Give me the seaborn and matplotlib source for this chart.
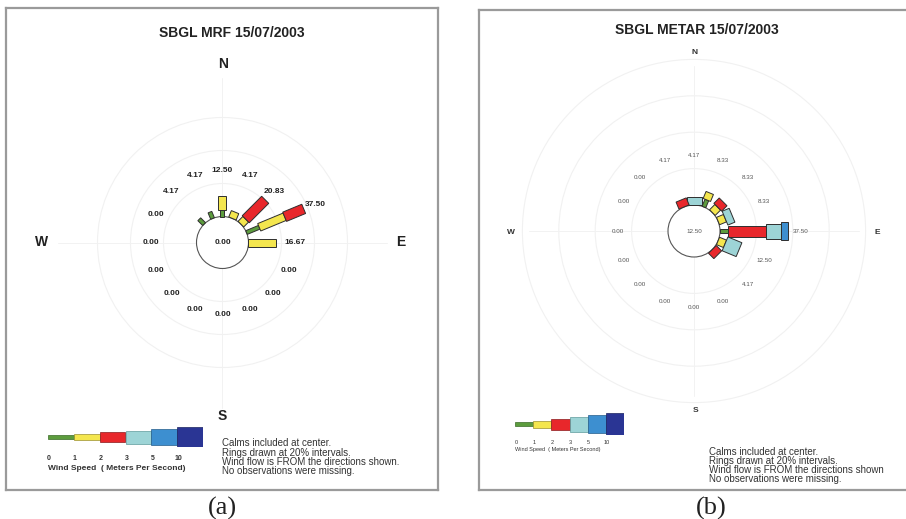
import numpy as np
import matplotlib
matplotlib.use("Agg")
import matplotlib.pyplot as plt
from matplotlib.patches import Polygon, Circle
import seaborn as sns

# ---------------- data ----------------
directions = ["N", "NNE", "NE", "ENE", "E", "ESE", "SE", "SSE",
              "S", "SSW", "SW", "WSW", "W", "WNW", "NW", "NNW"]
speed_ticks = ["0", "1", "2", "3", "5", "10"]
class_colors = ["#5c9c3d", "#f4e64e", "#e8272b", "#9dd4d6", "#3d8fd0", "#2a3594"]

# (a) SBGL MRF 15/07/2003 — frequency (%) per direction, per speed class
mrf_calm = 0.00
mrf_0_1 = [4.17, 0, 0, 8.33, 0, 0, 0, 0, 0, 0, 0, 0, 0, 0, 4.17, 4.17]
mrf_1_2 = [8.33, 4.17, 4.17, 16.67, 16.67, 0, 0, 0, 0, 0, 0, 0, 0, 0, 0, 0]
mrf_2_3 = [0, 0, 16.67, 12.50, 0, 0, 0, 0, 0, 0, 0, 0, 0, 0, 0, 0]
mrf_3_5 = [0] * 16
mrf_5_10 = [0] * 16
mrf_10p = [0] * 16
mrf_totals = [12.50, 4.17, 20.83, 37.50, 16.67, 0, 0, 0, 0, 0, 0, 0, 0, 0, 4.17, 4.17]

# (b) SBGL METAR 15/07/2003
metar_calm = 12.50
metar_0_1 = [0, 4.17, 0, 0, 4.17, 0, 0, 0, 0, 0, 0, 0, 0, 0, 0, 0]
metar_1_2 = [0, 4.17, 4.17, 4.17, 0, 4.17, 0, 0, 0, 0, 0, 0, 0, 0, 0, 0]
metar_2_3 = [0, 0, 4.17, 0, 20.83, 0, 4.17, 0, 0, 0, 0, 0, 0, 0, 0, 4.17]
metar_3_5 = [4.17, 0, 0, 4.17, 8.33, 8.33, 0, 0, 0, 0, 0, 0, 0, 0, 0, 0]
metar_5_10 = [0, 0, 0, 0, 4.17, 0, 0, 0, 0, 0, 0, 0, 0, 0, 0, 0]
metar_10p = [0] * 16
metar_totals = [4.17, 8.33, 8.33, 8.33, 37.50, 12.50, 4.17, 0, 0, 0, 0, 0, 0, 0, 0, 4.17]

notes = ["Calms included at center.",
         "Rings drawn at 20% intervals.",
         "Wind flow is FROM the directions shown.",
         "No observations were missing."]

# ---------------- style ----------------
sns.set_theme(style="white")
plt.rcParams["font.family"] = ["Liberation Sans", "DejaVu Sans"]
palette = sns.color_palette(class_colors)

W, H = 906, 519
fig = plt.figure(figsize=(W / 100, H / 100), dpi=100)
fig.patch.set_facecolor("white")


def make_panel(box, center, scale):
    l, t, r, b = box
    ax = fig.add_axes([l / W, 1 - b / H, (r - l) / W, (b - t) / H])
    cx, cy = center
    ax.set_xlim((l - cx) / scale, (r - cx) / scale)
    ax.set_ylim((cy - b) / scale, (cy - t) / scale)
    ax.set_xticks([]); ax.set_yticks([])
    for s in ax.spines.values():
        s.set_color("#9a9a9a"); s.set_linewidth(1.6)
    ax.set_facecolor("white")
    return ax


def draw_rose(ax, classes, totals, calm, R, widths_px, scale, label_r, pad,
              n_rings, lab_fs, lab_w, lab_c, calm_fs):
    # rings & cross lines
    for k in range(1, n_rings + 1):
        ax.add_patch(Circle((0, 0), R + 20 * k, fill=False, ec="#f1f1f1", lw=0.8, zorder=1))
    ext = 165 / scale
    ax.plot([-ext, ext], [0, 0], color="#f2f2f2", lw=0.7, zorder=1)
    ax.plot([0, 0], [-ext, ext], color="#f2f2f2", lw=0.7, zorder=1)
    ax.add_patch(Circle((0, 0), R, fc="white", ec="#555555", lw=0.8, zorder=2))
    ax.text(0, 0, f"{calm:.2f}", ha="center", va="center", fontsize=calm_fs,
            fontweight=lab_w, color=lab_c, zorder=5)
    for i, d in enumerate(directions):
        th = np.radians(i * 22.5)
        u = np.array([np.sin(th), np.cos(th)])
        v = np.array([np.cos(th), -np.sin(th)])
        r = R
        for k, series in enumerate(classes):
            f = series[i]
            if f > 0:
                w = widths_px[k] / scale / 2
                pts = [r * u + w * v, (r + f) * u + w * v, (r + f) * u - w * v, r * u - w * v]
                ax.add_patch(Polygon(pts, closed=True, fc=palette[k], ec="#2e2e2e",
                                     lw=0.7, zorder=3))
                r += f
        lr = max(label_r, r + pad) if totals[i] > 0 else label_r
        ax.text(*(lr * u), f"{totals[i]:.2f}", ha="center", va="center",
                fontsize=lab_fs, fontweight=lab_w, color=lab_c, zorder=5)


def draw_legend(ax, box, widths_px, tick_fs, title_fs, weight, title_dy, tick_dy):
    l, t, r, b = box
    lax = fig.add_axes([l / W, 1 - b / H, (r - l) / W, (b - t) / H])
    h = np.array(widths_px)
    lax.bar(np.arange(6), h, width=1, bottom=-h / 2, align="edge",
            color=palette, edgecolor=["#3a6b26", "#9b9030", "#8a1a1c", "#5e9a9c", "#245c8a", "#1a2260"],
            linewidth=0.5)
    lax.set_xlim(0, 6)
    lax.set_ylim(-(b - t) / 2, (b - t) / 2)
    lax.axis("off")
    for k, lab in enumerate(speed_ticks):
        fig.text((l + k * (r - l) / 6 + 1) / W, 1 - (b + tick_dy) / H, lab, ha="center",
                 va="center", fontsize=tick_fs, fontweight=weight, color="#333333")
    fig.text(l / W, 1 - (b + title_dy) / H, "Wind Speed  ( Meters Per Second)", ha="left",
             va="center", fontsize=title_fs, fontweight=weight, color="#333333")


# ---------------- panel (a) ----------------
sa = 1.65
ca = (222.5, 242.5)
axa = make_panel((6, 8, 438, 490), ca, sa)
Ra = 26 / sa
draw_rose(axa, [mrf_0_1, mrf_1_2, mrf_2_3, mrf_3_5, mrf_5_10, mrf_10p], mrf_totals,
          mrf_calm, Ra, [4, 8, 10, 13, 16, 20], sa, 72 / sa, 7.5, 3,
          6, "bold", "#222222", 6)


def pa(x, y, c=ca, s=sa):
    return ((x - c[0]) / s, (c[1] - y) / s)


axa.text(*pa(232, 33), "SBGL MRF 15/07/2003", ha="center", va="center",
         fontsize=10, fontweight="bold", color="#222222")
for lab, (x, y) in zip(["N", "E", "S", "W"], [(223, 64), (401, 242), (222, 416), (42, 242)]):
    axa.text(*pa(x, y), lab, ha="center", va="center", fontsize=10,
             fontweight="bold", color="#222222")
for k, line in enumerate(notes):
    axa.text(*pa(222, 443 + 9.5 * k), line, ha="left", va="center", fontsize=7,
             color="#333333")
draw_legend(axa, (48, 427, 203, 447), [3.5, 5.5, 10, 13, 16, 20], 5, 6, "bold", 21, 12)

# ---------------- panel (b) ----------------
sb = 1.82
cb = (694, 231)
axb = make_panel((479, 10, 912, 490), cb, sb)
Rb = 26 / sb
draw_rose(axb, [metar_0_1, metar_1_2, metar_2_3, metar_3_5, metar_5_10, metar_10p],
          metar_totals, metar_calm, Rb, [4, 8, 11, 15, 18, 22], sb, 76 / sb, 7, 4,
          4.5, "normal", "#555555", 4.5)


def pb(x, y):
    return pa(x, y, cb, sb)


axb.text(*pb(697, 30), "SBGL METAR 15/07/2003", ha="center", va="center",
         fontsize=10, fontweight="bold", color="#222222")
for lab, (x, y) in zip(["N", "E", "S", "W"], [(695, 52), (877, 232), (696, 410), (511, 232)]):
    axb.text(*pb(x, y), lab, ha="center", va="center", fontsize=6,
             fontweight="bold", color="#333333")
for k, line in enumerate(notes):
    txt = line.rstrip(".") if "FROM" in line else line
    axb.text(*pb(709, 452 + 9 * k), txt, ha="left", va="center", fontsize=7,
             color="#333333")
draw_legend(axb, (515, 413, 624, 435), [3.5, 7, 11, 15, 18, 22], 4, 4, "normal", 15, 8)

# ---------------- sub-captions ----------------
fig.text(222 / W, 1 - 508 / H, "(a)", ha="center", va="center", fontsize=19,
         family=["Liberation Serif", "DejaVu Serif"], color="#222222")
fig.text(711 / W, 1 - 508 / H, "(b)", ha="center", va="center", fontsize=19,
         family=["Liberation Serif", "DejaVu Serif"], color="#222222")

fig.savefig("out.png", dpi=100, facecolor="white")
